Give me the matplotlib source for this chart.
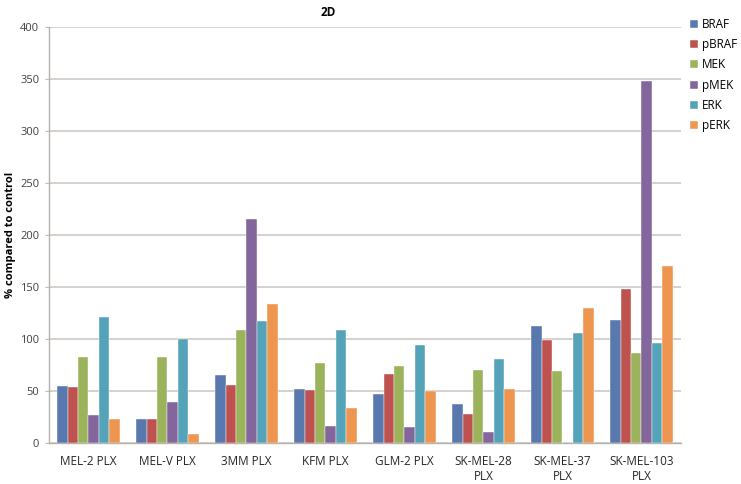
import matplotlib
matplotlib.use("Agg")
import matplotlib.pyplot as plt
import numpy as np

categories = ["MEL-2 PLX", "MEL-V PLX", "3MM PLX", "KFM PLX", "GLM-2 PLX",
              "SK-MEL-28\nPLX", "SK-MEL-37\nPLX", "SK-MEL-103\nPLX"]
series_names = ["BRAF", "pBRAF", "MEK", "pMEK", "ERK", "pERK"]
BRAF  = [55, 23, 65, 52, 47, 37, 112, 118]
pBRAF = [54, 23, 56, 51, 66, 28, 99, 148]
MEK   = [83, 83, 109, 77, 74, 70, 69, 86]
pMEK  = [27, 39, 215, 16, 15, 10, 0, 348]
ERK   = [121, 100, 117, 109, 94, 81, 106, 96]
pERK  = [23, 9, 134, 34, 50, 52, 130, 170]
yticks = [0, 50, 100, 150, 200, 250, 300, 350, 400]

series = [BRAF, pBRAF, MEK, pMEK, ERK, pERK]
colors = ["#5878AE", "#BE524E", "#9BB35B", "#83669C", "#55A3B9", "#EE9550"]

plt.rcParams['font.family'] = ['Open Sans', 'DejaVu Sans']

fig = plt.figure(figsize=(7.41, 4.84), dpi=100)
ax = fig.add_axes([0.066, 0.085, 0.853, 0.859])

x = np.arange(len(categories))
n = len(series)
bw = 0.79 / n
for i, (vals, c, name) in enumerate(zip(series, colors, series_names)):
    ax.bar(x - 0.395 + bw * (i + 0.5), vals, width=bw, color=c, label=name,
           edgecolor="white", linewidth=0.3, zorder=3)

ax.set_xlim(-0.5, len(categories) - 0.5)
ax.set_ylim(0, 400)
ax.set_yticks(yticks)
ax.set_yticklabels([str(t) for t in yticks], fontsize=8, color="#404040")
ax.set_xticks(x)
ax.set_xticklabels(categories, fontsize=8.5, color="#262626", linespacing=1.15)
ax.tick_params(axis="x", length=0, pad=9)
ax.tick_params(axis="y", length=3, color="#c0bab5", width=0.8, pad=4)
ax.grid(axis="y", color="#cdc8c4", linewidth=1.2, zorder=0)
for s in ["top", "right"]:
    ax.spines[s].set_visible(False)
for s in ["left", "bottom"]:
    ax.spines[s].set_color("#b8b2ad")
    ax.spines[s].set_linewidth(1.0)
ax.set_ylabel("% compared to control", fontsize=8, fontweight="bold", labelpad=3)
fig.text(0.443, 0.975, "2D", fontsize=8.5, fontweight="bold", ha="center", va="center")

leg = fig.legend(loc="upper left", bbox_to_anchor=(0.925, 0.973), frameon=False,
                 fontsize=8.5, handlelength=0.65, handleheight=0.65,
                 handletextpad=0.35, labelspacing=0.62, borderaxespad=0)

fig.savefig("out.png", dpi=100, facecolor="white")
